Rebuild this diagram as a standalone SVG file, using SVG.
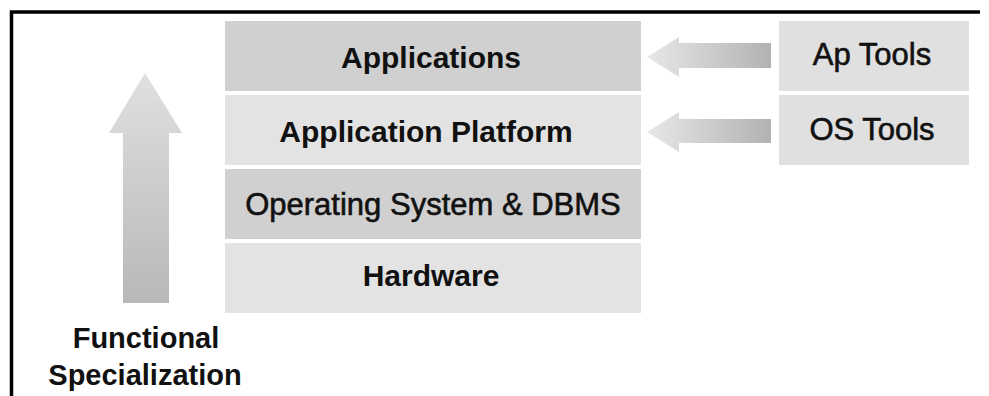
<svg xmlns="http://www.w3.org/2000/svg" width="989" height="396" viewBox="0 0 989 396">
<defs>
<linearGradient id="gUp" x1="0" y1="0" x2="0" y2="1">
<stop offset="0" stop-color="#e0e0e0"/>
<stop offset="1" stop-color="#b8b8b8"/>
</linearGradient>
<linearGradient id="gLeft" x1="0" y1="0" x2="1" y2="0">
<stop offset="0" stop-color="#e8e8e8"/>
<stop offset="1" stop-color="#b2b2b2"/>
</linearGradient>
<style>
.dark{fill:#d0d0d0}
.light{fill:#e3e3e3}
.tool{fill:#e0e0e0}
text{font-family:"Liberation Sans",Arial,sans-serif;fill:#111;text-anchor:middle}
.b{font-weight:bold;font-size:30px}
.r{font-weight:normal;font-size:31px;stroke:#111;stroke-width:0.6px}
</style>
</defs>
<rect width="989" height="396" fill="#fff"/>
<path d="M11.5 396 V12 H980" fill="none" stroke="#000" stroke-width="3.5"/>
<g id="applications"><rect class="dark" x="225" y="21" width="416" height="70"/><text class="b" x="431" y="68">Applications</text></g>
<g id="application-platform"><rect class="light" x="225" y="95" width="416" height="70"/><text class="b" x="426" y="142">Application Platform</text></g>
<g id="os-dbms"><rect class="dark" x="225" y="169" width="416" height="70"/><text class="r" x="433" y="215">Operating System &amp; DBMS</text></g>
<g id="hardware"><rect class="light" x="225" y="243" width="416" height="70"/><text class="b" x="431" y="286">Hardware</text></g>
<g id="ap-tools"><rect class="tool" x="779" y="21" width="190" height="70"/><text class="r" x="872" y="65">Ap Tools</text></g>
<g id="os-tools"><rect class="tool" x="779" y="95" width="190" height="70"/><text class="r" x="872" y="140">OS Tools</text></g>
<g id="functional-specialization"><text class="b" x="146" y="348" style="font-size:29px">Functional</text><text class="b" x="145" y="385" style="font-size:29px">Specialization</text></g>
<g id="connectors">
<path d="M145 73 L182 133 L169 133 L169 303 L123 303 L123 133 L109 133 Z" fill="url(#gUp)"/>
<path d="M647 57 L679 37 L679 43 L771 43 L771 68 L679 68 L679 77 Z" fill="url(#gLeft)"/>
<path d="M647 132 L679 112 L679 119 L771 119 L771 143 L679 143 L679 152 Z" fill="url(#gLeft)"/>
</g>
</svg>
